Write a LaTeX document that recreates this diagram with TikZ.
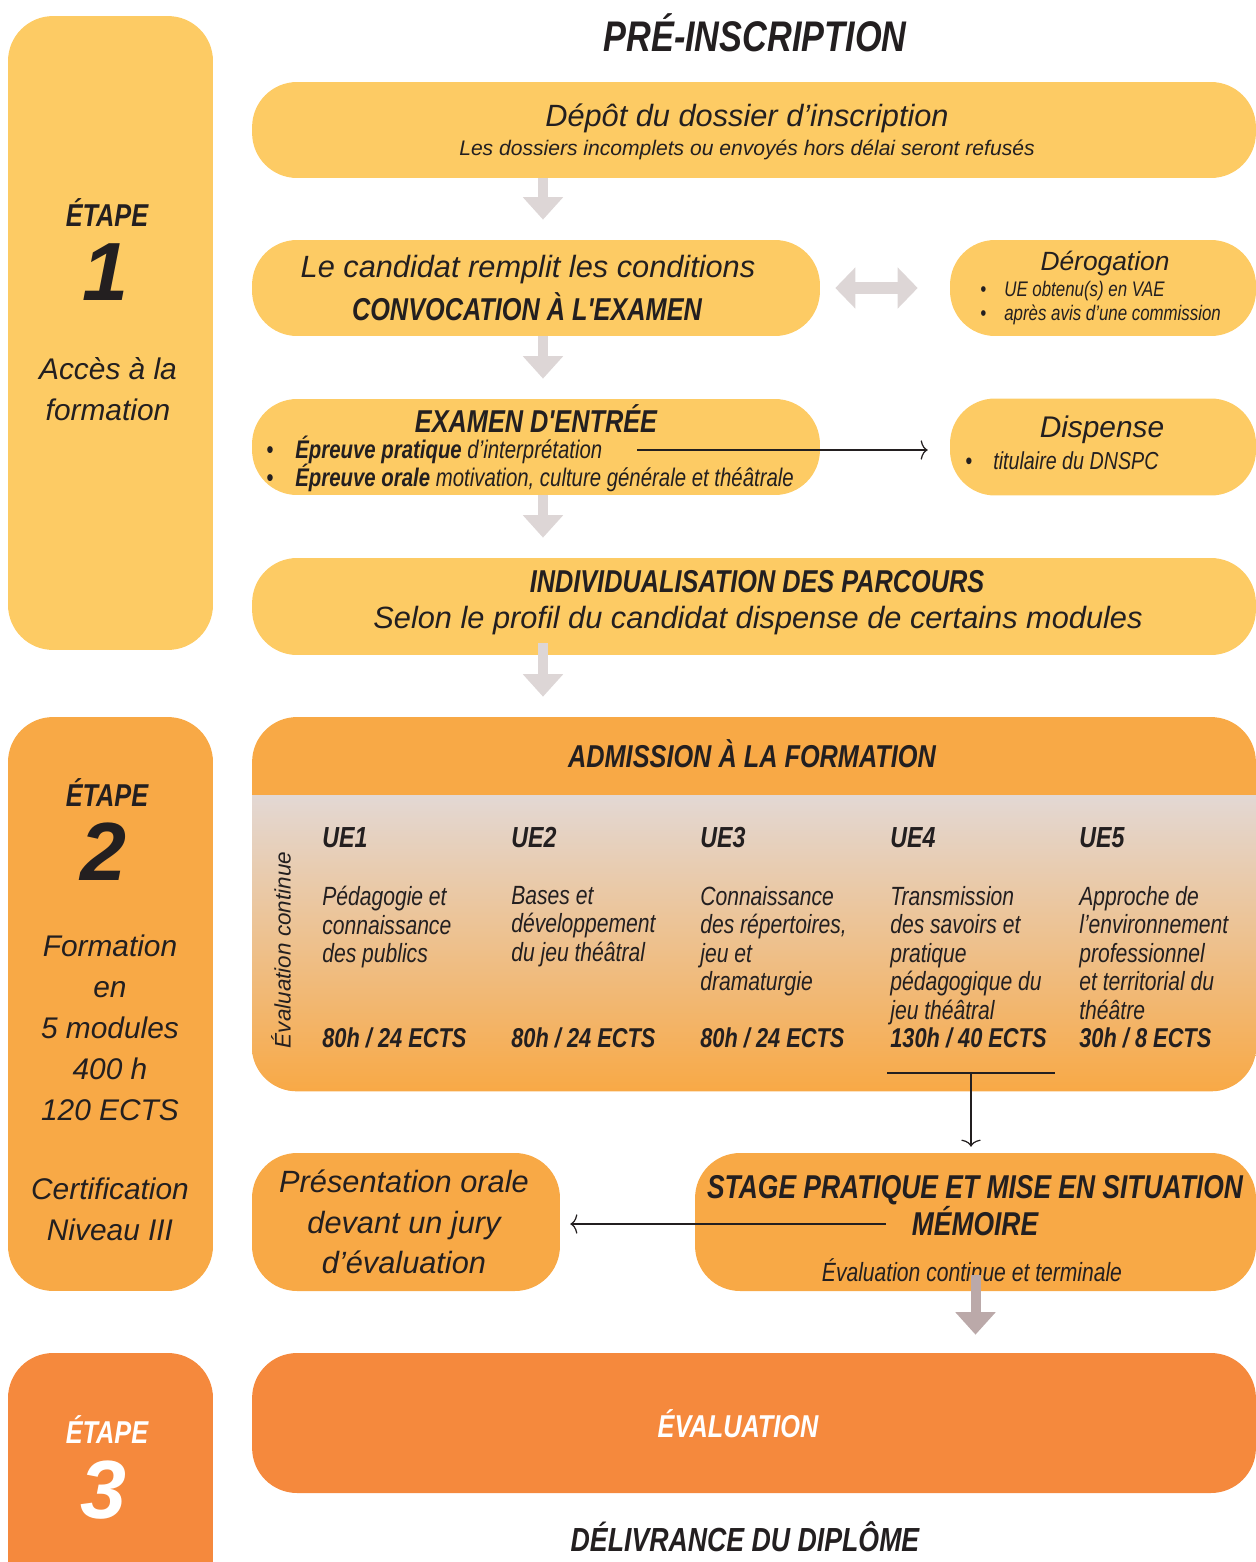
\documentclass[tikz,border=0pt]{standalone}
\usepackage{fontspec}
\setmainfont{Liberation Sans}
\newfontfamily\etroite{Liberation Sans}[FakeStretch=0.8]
\usetikzlibrary{arrows.meta}

\definecolor{jaune}{HTML}{FDCB64}
\definecolor{orangeclair}{HTML}{F8A946}
\definecolor{orangefonce}{HTML}{F5893D}
\definecolor{grisfleche}{HTML}{DDD6D6}
\definecolor{brunfleche}{HTML}{BBA9A9}
\definecolor{grisdegrade}{HTML}{E3D8D4}
\definecolor{encre}{HTML}{231F20}

\tikzset{
  boite/.style={rounded corners=0.9cm, inner sep=0pt},
  titre/.style={font=\etroite\bfseries\itshape\fontsize{18}{21}\selectfont, align=center},
  corps/.style={font=\itshape\fontsize{17.5}{23}\selectfont, align=center},
  cote/.style={font=\itshape\fontsize{17}{23.3}\selectfont, align=center},
  etape/.style={font=\etroite\bfseries\itshape\fontsize{18}{20}\selectfont},
  chiffre/.style={font=\bfseries\itshape\fontsize{47}{50}\selectfont},
  module/.style={font=\etroite\itshape\fontsize{15}{16.2}\selectfont, align=left, anchor=north west, inner sep=0pt},
  credits/.style={font=\etroite\bfseries\itshape\fontsize{15.5}{18}\selectfont, anchor=west, inner sep=0pt},
  ue/.style={font=\etroite\bfseries\itshape\fontsize{16.5}{18}\selectfont, anchor=west, inner sep=0pt},
  grosse/.style={line width=0.2cm, draw=grisfleche, shorten >=0.4cm, -{Triangle[width=0.78cm,length=0.45cm]}},
  fine/.style={line width=0.7pt, draw=encre, -{To[length=4pt,width=11pt]}},
}

\begin{document}
\begin{tikzpicture}[x=0.02cm, y=-0.02cm, every node/.style={text=encre}]
\useasboundingbox (0,0) rectangle (1255,1562);

% boites
\node[boite, fill=jaune, minimum width=4.1cm, minimum height=12.68cm] (etape1) at (110.5,333) {};
\node[boite, fill=orangeclair, minimum width=4.1cm, minimum height=11.48cm] (etape2) at (110.5,1004) {};
\node[boite, fill=orangefonce, minimum width=4.1cm, minimum height=5.34cm] (etape3) at (110.5,1486.5) {};
\node[boite, fill=jaune, minimum width=20.08cm, minimum height=1.92cm] (depot) at (754,130) {};
\node[boite, fill=jaune, minimum width=11.36cm, minimum height=1.92cm] (cond) at (536,288) {};
\node[boite, fill=jaune, minimum width=6.12cm, minimum height=1.92cm] (derog) at (1103,288) {};
\node[boite, fill=jaune, minimum width=11.36cm, minimum height=1.92cm] (examen) at (536,447) {};
\node[boite, fill=jaune, minimum width=6.12cm, minimum height=1.94cm] (disp) at (1103,447) {};
\node[boite, fill=jaune, minimum width=20.08cm, minimum height=1.94cm] (indiv) at (754,606.5) {};
\node[boite, fill=orangeclair, minimum width=20.08cm, minimum height=7.48cm] (admis) at (754,904) {};
\begin{scope}
\clip[rounded corners=0.9cm] (admis.south west) rectangle (admis.north east);
\shade[top color=grisdegrade, bottom color=orangeclair] (252,795) rectangle (1256,1091);
\end{scope}
\node[boite, fill=orangeclair, minimum width=6.16cm, minimum height=2.76cm] (pres) at (406,1222) {};
\node[boite, fill=orangeclair, minimum width=11.22cm, minimum height=2.76cm] (stage) at (975.5,1222) {};
\node[boite, fill=orangefonce, minimum width=20.08cm, minimum height=2.8cm] (evalu) at (754,1423) {};

% colonne des etapes
\node[etape] (et1) at (107,213) {ÉTAPE};
\node[chiffre] (num1) at (105,272) {1};
\node[cote] (acces) at (108,389) {Accès à la\\formation};
\node[etape] (et2) at (107,793) {ÉTAPE};
\node[chiffre] (num2) at (103,852) {2};
\node[cote] (forma) at (110,1028) {Formation\\en\\5 modules\\400 h\\120 ECTS};
\node[cote] (certif) at (110,1209) {Certification\\Niveau III};
\node[etape, text=white] (et3) at (107,1430) {ÉTAPE};
\node[chiffre, text=white] (num3) at (103,1490) {3};

% pre-inscription
\node[titre, font=\etroite\bfseries\itshape\fontsize{24.4}{28}\selectfont] (preins) at (755,33) {PRÉ-INSCRIPTION};
\node[corps] (depott) at (747,118) {Dépôt du dossier d’inscription};
\node[font=\itshape\fontsize{12}{14}\selectfont] (depots) at (747,150) {Les dossiers incomplets ou envoyés hors délai seront refusés};
\node[corps] (condt) at (528,270) {Le candidat remplit les conditions};
\node[titre] (convoc) at (527,307) {CONVOCATION À L'EXAMEN};
\node[font=\itshape\fontsize{15}{18}\selectfont] (derogt) at (1105,264) {Dérogation};
\node[font=\etroite\itshape\fontsize{12}{13.7}\selectfont, align=left, anchor=west, inner sep=0pt] (derogb) at (980,303)
  {\makebox[0.48cm][l]{\textbullet}UE obtenu(s) en VAE\\\makebox[0.48cm][l]{\textbullet}après avis d’une commission};
\node[titre] (examt) at (536,419) {EXAMEN D'ENTRÉE};
\node[font=\etroite\itshape\fontsize{14.5}{16}\selectfont, align=left, anchor=west, inner sep=0pt] (examb) at (266,464)
  {\makebox[0.58cm][l]{\textbullet}\textbf{Épreuve pratique} d’interprétation\\\makebox[0.58cm][l]{\textbullet}\textbf{Épreuve orale} motivation, culture générale et théâtrale};
\coordinate (prat) at (637,450);
\node[font=\itshape\fontsize{17}{20}\selectfont] (dispt) at (1102,430) {Dispense};
\node[font=\etroite\itshape\fontsize{14}{16}\selectfont, anchor=west, inner sep=0pt] (dispb) at (965,461)
  {\makebox[0.56cm][l]{\textbullet}titulaire du DNSPC};
\node[titre] (indivt) at (757,582) {INDIVIDUALISATION DES PARCOURS};
\node[corps] (indivs) at (758,621) {Selon le profil du candidat dispense de certains modules};

% admission
\node[titre] (admt) at (752,754) {ADMISSION À LA FORMATION};
\node[font=\itshape\fontsize{12.8}{15}\selectfont, rotate=90] (evc) at (281,950) {Évaluation continue};
\node[ue] (ue1) at (322,838) {UE1};
\node[ue] (ue2) at (511,838) {UE2};
\node[ue] (ue3) at (700,838) {UE3};
\node[ue] (ue4) at (890,838) {UE4};
\node[ue] (ue5) at (1079,838) {UE5};
\node[module] (mod1) at (322,886) {Pédagogie et\\connaissance\\des publics};
\node[module] (mod2) at (511,886) {Bases et\\développement\\du jeu théâtral};
\node[module] (mod3) at (700,886) {Connaissance\\des répertoires,\\jeu et\\dramaturgie};
\node[module] (mod4) at (890,886) {Transmission\\des savoirs et\\pratique\\pédagogique du\\jeu théâtral};
\node[module] (mod5) at (1079,886) {Approche de\\l’environnement\\professionnel\\et territorial du\\théâtre};
\node[credits] (ects1) at (322,1038) {80h / 24 ECTS};
\node[credits] (ects2) at (511,1038) {80h / 24 ECTS};
\node[credits] (ects3) at (700,1038) {80h / 24 ECTS};
\node[credits] (ects4) at (890,1038) {130h / 40 ECTS};
\node[credits] (ects5) at (1079,1038) {30h / 8 ECTS};
\coordinate (ue4g) at (887,1073);
\coordinate (ue4d) at (1055,1073);
\coordinate (ue4m) at (971,1073);

% stage et presentation
\node[corps] (prest) at (404,1222) {Présentation orale\\devant un jury\\d’évaluation};
\node[titre, font=\etroite\bfseries\itshape\fontsize{18.8}{21}\selectfont] (staget) at (975,1206) {STAGE PRATIQUE ET MISE EN SITUATION\\MÉMOIRE};
\node[font=\etroite\itshape\fontsize{15}{17}\selectfont] (stages) at (972,1270) {Évaluation continue et terminale};
\coordinate (mem) at (886,1224);

% evaluation
\node[titre, text=white] (evalt) at (738,1424) {ÉVALUATION};
\node[titre, font=\etroite\bfseries\itshape\fontsize{19}{21}\selectfont] (deliv) at (745,1537) {DÉLIVRANCE DU DIPLÔME};

% fleches
\coordinate (axe) at (543,0);
\draw[grosse] (axe |- depot.south) -- (axe |- cond.north);
\draw[grosse] (axe |- cond.south) -- (axe |- examen.north);
\draw[grosse] (axe |- examen.south) -- (axe |- indiv.north);
\draw[grosse, shorten <=-0.24cm] (axe |- indiv.south) -- (axe |- admis.north);
\draw[line width=0.24cm, draw=grisfleche, shorten <=0.3cm, shorten >=0.64cm,
  {Triangle[width=0.8cm,length=0.4cm]}-{Triangle[width=0.8cm,length=0.4cm]}] (cond.east) -- (derog.west);
\draw[fine] (prat) -- (prat -| disp.west) [shorten >=0.44cm];
\draw[line width=0.7pt, draw=encre] (ue4g) -- (ue4d);
\draw[fine, shorten >=0.12cm] (ue4m) -- (ue4m |- stage.north);
\draw[fine, shorten >=0.2cm] (mem) -- (mem -| pres.east);
\draw[grosse, draw=brunfleche, shorten <=-0.32cm, shorten >=0.36cm] (stage.south) -- (stage.south |- evalu.north);
\end{tikzpicture}
\end{document}
